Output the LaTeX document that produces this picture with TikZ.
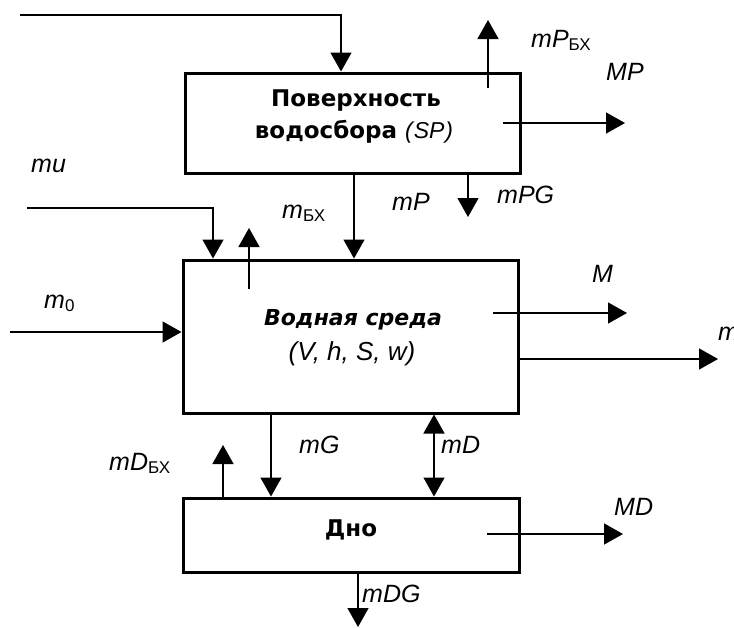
\documentclass[tikz,border=0pt]{standalone}
\usepackage{fontspec}
\setmainfont{Liberation Sans}
\newfontfamily\djv{DejaVu Sans}
\usetikzlibrary{arrows.meta,calc}
\newcommand\labf{\normalfont\fontsize{25}{25}\selectfont\itshape}
\newcommand\subf{\normalfont\fontsize{17}{17}\selectfont}
\newcommand\sbx[1]{\raisebox{-3pt}{\subf #1}}
\begin{document}
\begin{tikzpicture}[x=1pt,y=-1pt,
  box/.style={draw, line width=3pt, inner sep=0pt},
  flow/.style={line width=1.5pt, -{Triangle[width=21pt,length=19pt]}},
  biflow/.style={line width=1.5pt, {Triangle[width=21pt,length=19pt]}-{Triangle[width=21pt,length=19pt]}},
  lab/.style={font=\labf, anchor=base west, inner sep=0pt},
  title/.style={font=\djv\bfseries\fontsize{23}{23}\selectfont, anchor=base, inner sep=0pt},
  titleit/.style={font=\djv\bfseries\itshape\fontsize{22}{22}\selectfont, anchor=base, inner sep=0pt}]
\useasboundingbox (0,0) rectangle (734,627);
% boxes
\node[box, minimum width=335pt, minimum height=100pt] (sp) at (352.5,123) {};
\node[box, minimum width=335pt, minimum height=153pt] (ws) at (350.5,336.5) {};
\node[box, minimum width=336pt, minimum height=74pt] (dn) at (351,535) {};
% box texts
\node[title] (sp1) at (356,106) {Поверхность};
\node[title] (sp2) at (354,138) {водосбора {\normalfont\itshape\fontsize{23}{23}\selectfont(\kern1pt SP\kern1pt)}};
\node[titleit] (ws1) at (353,325) {Водная среда};
\node[anchor=base, inner sep=0pt, font=\normalfont\itshape\fontsize{26}{26}\selectfont] (ws2) at (352,360) {(V, h, S, w)};
\node[title] (dn1) at (351,536) {Дно};
% free ends
\coordinate (t0) at (20,15); \coordinate (t1) at (341,15);
\coordinate (pb0) at (488,88); \coordinate (pb1) at (488,20);
\coordinate (mp0) at (503,123); \coordinate (mp1) at (625,123);
\coordinate (mbx) at (354,0);
\coordinate (pg1) at (468,217);
\coordinate (u0) at (27,208); \coordinate (u1) at (213,208);
\coordinate (w0) at (249,289); \coordinate (w1) at (249,228);
\coordinate (z0) at (10,332);
\coordinate (M0) at (493,313); \coordinate (M1) at (627,313);
\coordinate (r1) at (718,359);
\coordinate (g) at (271,0);
\coordinate (d) at (434,0);
\coordinate (db1) at (223,445);
\coordinate (md0) at (487,534); \coordinate (md1) at (623,534);
\coordinate (dg1) at (358,627);
% connectors
\draw[flow] (t0) -- (t1) -- (t1 |- sp.north);
\draw[flow] (pb0) -- (pb1);
\draw[flow] (mp0) -- (mp1);
\draw[flow] (mbx |- sp.south) -- (mbx |- ws.north);
\draw[flow] (pg1 |- sp.south) -- (pg1);
\draw[flow] (u0) -- (u1) -- (u1 |- ws.north);
\draw[flow] (w0) -- (w1);
\draw[flow] (z0) -- (z0 -| ws.west);
\draw[flow] (M0) -- (M1);
\draw[flow] (r1 -| ws.east) -- (r1);
\draw[flow] (g |- ws.south) -- (g |- dn.north);
\draw[biflow] (d |- ws.south) -- (d |- dn.north);
\draw[flow] (db1 |- dn.north) -- (db1);
\draw[flow] (md0) -- (md1);
\draw[flow] (dg1 |- dn.south) -- (dg1);
% labels
\node[lab] (lpb) at (531,47) {mP\sbx{БХ}};
\node[lab] (lmp) at (606,80) {MP};
\node[lab] (lmbx) at (282,218) {m\sbx{БХ}};
\node[lab] (lmp2) at (392,210) {mP};
\node[lab] (lpg) at (497,203) {mPG};
\node[lab] (lmu) at (31,172) {mu};
\node[lab] (lm0) at (44,308) {m\sbx{0}};
\node[lab] (lM) at (592,282) {M};
\node[lab] (lm) at (718,340) {m};
\node[lab] (lg) at (299,453) {mG};
\node[lab] (ld) at (441,453) {mD};
\node[lab] (ldbx) at (109,470) {mD\sbx{БХ}};
\node[lab] (lmd) at (614,515) {MD};
\node[lab] (ldg) at (362,602) {mDG};
\end{tikzpicture}
\end{document}
